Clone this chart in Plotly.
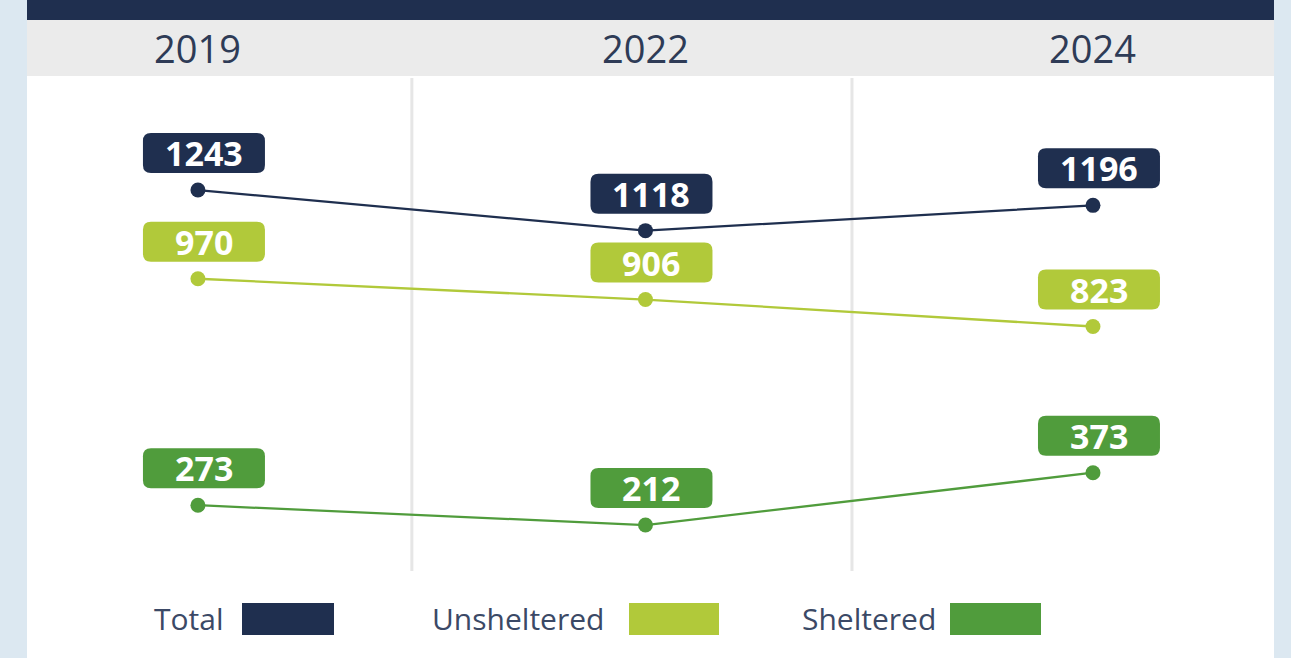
import plotly.graph_objects as go

# Point-in-time counts by survey year
years = ["2019", "2022", "2024"]
series_names = ["Total", "Unsheltered", "Sheltered"]
total = [1243, 1118, 1196]
unsheltered = [970, 906, 823]
sheltered = [273, 212, 373]

colors = {
    "Total": "#1f2f4f",
    "Unsheltered": "#b1c93a",
    "Sheltered": "#509c3c",
}
values = {"Total": total, "Unsheltered": unsheltered, "Sheltered": sheltered}

W, H = 1291, 658
ML, MR, MT, MB = 27, 17, 77, 78
PW = W - ML - MR
PH = H - MT - MB


def px_x(p):
    return (p - ML) / PW


def px_y(p):
    return (H - MB - p) / PH


fig = go.Figure()

for name in series_names:
    fig.add_trace(go.Scatter(
        x=list(range(len(years))), y=values[name], mode="lines+markers",
        name=name, showlegend=False,
        line=dict(color=colors[name], width=2.3),
        marker=dict(color=colors[name], size=15),
        hoverinfo="skip",
    ))

shapes = []
annotations = []

# Outer frame: side strips, navy top bar, grey header band
shapes.append(dict(type="rect", xref="paper", yref="paper", x0=px_x(0), x1=0,
                   y0=px_y(H), y1=px_y(0), fillcolor="#dce8f1", line_width=0, layer="below"))
shapes.append(dict(type="rect", xref="paper", yref="paper", x0=1, x1=px_x(W),
                   y0=px_y(H), y1=px_y(0), fillcolor="#dce8f1", line_width=0, layer="below"))
shapes.append(dict(type="rect", xref="paper", yref="paper", x0=0, x1=1,
                   y0=px_y(20), y1=px_y(0), fillcolor="#1f2f4f", line_width=0, layer="below"))
shapes.append(dict(type="rect", xref="paper", yref="paper", x0=0, x1=1,
                   y0=px_y(76), y1=px_y(20), fillcolor="#ebebeb", line_width=0, layer="below"))

# Column separators
for xs in (0.478, 1.4615):
    shapes.append(dict(type="line", xref="x", yref="paper", x0=xs, x1=xs,
                       y0=px_y(571), y1=px_y(78), line=dict(color="#e6e6e6", width=3),
                       layer="below"))

# Year headings
for i, yr in enumerate(years):
    annotations.append(dict(x=i, y=px_y(48), xref="x", yref="paper", text=yr,
                            showarrow=False, xanchor="center", yanchor="middle",
                            font=dict(family="Open Sans", size=38, color="#2e3b56")))

# Rounded value badges above each point
bw, bh, r = 122, 40, 8
dx, dy = 6, 37
x0, x1 = dx - bw / 2, dx + bw / 2
y0, y1 = dy - bh / 2, dy + bh / 2
badge_path = (
    f"M {x0 + r},{y0} L {x1 - r},{y0} Q {x1},{y0} {x1},{y0 + r} "
    f"L {x1},{y1 - r} Q {x1},{y1} {x1 - r},{y1} "
    f"L {x0 + r},{y1} Q {x0},{y1} {x0},{y1 - r} "
    f"L {x0},{y0 + r} Q {x0},{y0} {x0 + r},{y0} Z"
)
for name in series_names:
    for i, v in enumerate(values[name]):
        shapes.append(dict(type="path", xref="x", yref="y",
                           xsizemode="pixel", ysizemode="pixel",
                           xanchor=i, yanchor=v, path=badge_path,
                           fillcolor=colors[name], line_width=0, layer="above"))
        annotations.append(dict(x=i, y=v, xref="x", yref="y", text=f"<b>{v}</b>",
                                showarrow=False, xanchor="center", yanchor="middle",
                                xshift=dx, yshift=dy,
                                font=dict(family="Open Sans", size=34, color="white")))

# Legend row
legend_items = [
    ("Total", 226, 242, 334),
    ("Unsheltered", 606, 629, 719),
    ("Sheltered", 938, 950, 1041),
]
for name, text_right, sw0, sw1 in legend_items:
    annotations.append(dict(x=px_x(text_right), y=px_y(618), xref="paper", yref="paper",
                            text=name, showarrow=False, xanchor="right", yanchor="middle",
                            font=dict(family="Open Sans", size=30, color="#3b4966")))
    shapes.append(dict(type="rect", xref="paper", yref="paper",
                       x0=px_x(sw0), x1=px_x(sw1), y0=px_y(635), y1=px_y(603),
                       fillcolor=colors[name], line_width=0))

fig.update_layout(
    width=W, height=H,
    margin=dict(l=ML, r=MR, t=MT, b=MB, pad=0),
    paper_bgcolor="white", plot_bgcolor="white",
    xaxis=dict(range=[-0.382, 2.4045], showgrid=False, zeroline=False,
               showticklabels=False, showline=False, fixedrange=True),
    yaxis=dict(range=[42.8, 1591], showgrid=False, zeroline=False,
               showticklabels=False, showline=False, fixedrange=True),
    shapes=shapes, annotations=annotations,
    showlegend=False,
)

fig.write_html("out.html")
